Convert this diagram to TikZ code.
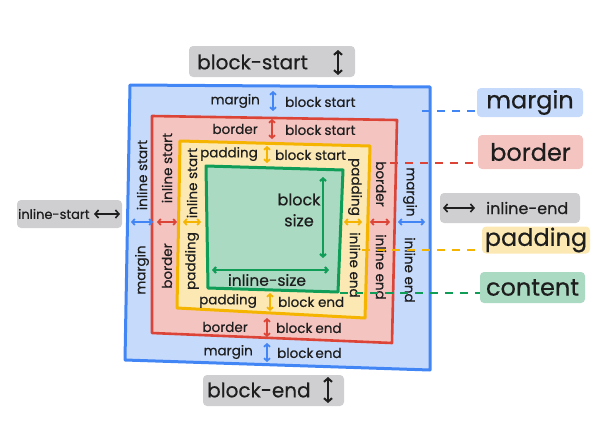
\documentclass[tikz,border=0pt]{standalone}
\usepackage{fontspec}
\setmainfont{Poppins}[FakeBold=0.5]
\usetikzlibrary{arrows.meta}
\definecolor{bstroke}{HTML}{4285F4}\definecolor{bfill}{HTML}{C6DAFB}
\definecolor{rstroke}{HTML}{DB4437}\definecolor{rfill}{HTML}{F4C4C0}
\definecolor{ystroke}{HTML}{F4B400}\definecolor{yfill}{HTML}{FCE8B2}
\definecolor{gstroke}{HTML}{0F9D58}\definecolor{gfill}{HTML}{ABDAC3}
\definecolor{tagfill}{HTML}{CFCFD2}
\definecolor{ink}{HTML}{1E1E1E}
\tikzset{
  lbl/.style={font=\fontsize{13.5}{13.5}\selectfont, inner sep=0pt, text=ink},
  big/.style={font=\fontsize{20}{20}\selectfont, inner sep=0pt, text=ink},
  leg/.style={font=\fontsize{24}{24}\selectfont, inner sep=0pt, text=ink},
  tagbox/.style={rounded corners=4pt, draw=none},
  dbl/.style={{Straight Barb[length=2.6pt,width=6pt]}-{Straight Barb[length=2.6pt,width=6pt]}, line width=1.8pt},
  bigdbl/.style={{Straight Barb[length=3.5pt,width=8pt]}-{Straight Barb[length=3.5pt,width=8pt]}, line width=2pt, draw=ink},
  dsh/.style={dash pattern=on 8pt off 7pt, line width=1.2pt},
}
\begin{document}
\begin{tikzpicture}[x=1pt,y=-1pt]
\useasboundingbox (0,0) rectangle (599,431);
% boxes
\draw[bstroke, fill=bfill, line width=3pt, line join=round] (130,85) -- (430,87) -- (430,370) -- (125,360) -- cycle;
\draw[rstroke, fill=rfill, line width=2.6pt, line join=round] (152,116) -- (397,120) -- (392,343) -- (152,333) -- cycle;
\draw[ystroke, fill=yfill, line width=3pt, line join=round] (180,141) -- (370,146) -- (365,318) -- (177,308) -- cycle;
\draw[gstroke, fill=gfill, line width=3pt, line join=round] (206,166) -- (343,170) -- (338,292) -- (208,288) -- cycle;

% top block start rows
\node[lbl, anchor=east] (mbs) at (260,101) {margin};
\draw[dbl, bstroke] (273,91) -- (273,111);
\node[lbl, anchor=west] (mbs2) at (285,102) {block\hspace{3pt}start};
\node[lbl, anchor=east] (bbs) at (258,129) {border};
\draw[dbl, rstroke] (272,119) -- (272,139);
\node[lbl, anchor=west] (bbs2) at (285,130) {block\hspace{3pt}start};
\node[lbl, anchor=east] (pbs) at (258,154) {padding};
\draw[dbl, ystroke] (267,146) -- (267,163);
\node[lbl, anchor=west] (pbs2) at (275,155) {block start};

% bottom block end rows
\node[lbl, anchor=east] (pbe) at (257,301) {padding};
\draw[dbl, ystroke] (270,293) -- (270,311);
\node[lbl, anchor=west] (pbe2) at (278,302) {block end};
\node[lbl, anchor=east] (bbe) at (248,327) {border};
\draw[dbl, rstroke] (267,318) -- (267,337);
\node[lbl, anchor=west] (bbe2) at (276,328) {block\hspace{3pt}end};
\node[lbl, anchor=east] (mbe) at (253,352) {margin};
\draw[dbl, bstroke] (267,343) -- (267,362);
\node[lbl, anchor=west] (mbe2) at (277,353) {block\hspace{2pt}end};

% left inline start columns
\node[lbl, rotate=90] (mis) at (142,175) {inline start};
\draw[dbl, bstroke] (131,222) -- (153,222);
\node[lbl, rotate=90] (mis2) at (142,270) {margin};
\node[lbl, rotate=90] (bis) at (167,168) {inline start};
\draw[dbl, rstroke] (157,222) -- (177,222);
\node[lbl, rotate=90] (bis2) at (167,266) {border};
\node[lbl, rotate=90] (pis) at (192,183) {inline start};
\draw[dbl, ystroke] (183,222) -- (201,222);
\node[lbl, rotate=90] (pis2) at (192,261) {padding};

% right inline end columns
\node[lbl, rotate=-90] (pie) at (355,187) {padding};
\draw[dbl, ystroke] (344,222) -- (362,222);
\node[lbl, rotate=-90] (pie2) at (355,265) {inline end};
\node[lbl, rotate=-90] (bie) at (381,184) {border};
\draw[dbl, rstroke] (370,222) -- (390,222);
\node[lbl, rotate=-90] (bie2) at (381,267) {inline end};
\node[lbl, rotate=-90] (mie) at (410,192) {margin};
\draw[dbl, bstroke] (398,222) -- (425,222);
\node[lbl, rotate=-90] (mie2) at (410,270) {inline end};

% content
\node[lbl, align=center, font=\fontsize{16}{21}\selectfont] (bsize) at (299,210) {block\\size};
\draw[dbl, gstroke, line width=2.2pt] (323,177) -- (323,258);
\draw[dbl, gstroke, line width=2.2pt] (212,270) -- (329,270);
\node[lbl, font=\fontsize{15.5}{15.5}\selectfont] (isize) at (267,280) {inline-size};

% gray tags
\fill[tagfill, tagbox] (189,46) rectangle (355,77);
\node[big, anchor=west] (tbs) at (197,62) {block-start};
\draw[bigdbl] (338,50) -- (338,75);
\fill[tagfill, tagbox] (203,375) rectangle (344,406);
\node[big, anchor=west] (tbe) at (207,390) {block-end};
\draw[bigdbl] (328,377) -- (328,403);
\fill[tagfill, tagbox] (17,200) rectangle (122,228);
\node[lbl, anchor=west, font=\fontsize{13}{13}\selectfont] (tis) at (18,214) {inline-start};
\draw[bigdbl, line width=1.6pt] (94,214) -- (120,214);
\fill[tagfill, tagbox] (440,193) rectangle (580,223);
\draw[bigdbl, line width=1.6pt] (443,208) -- (475,208);
\node[lbl, anchor=west, font=\fontsize{16}{16}\selectfont] (tie) at (486,208) {inline-end};

% coloured legend tags
\node[tagbox, fill=bfill, minimum width=106pt, minimum height=29pt, inner sep=0pt] (lm) at (530,102.5) {};
\node[leg] (lmt) at (lm) {margin};
\node[tagbox, fill=rfill, minimum width=105pt, minimum height=34pt, inner sep=0pt] (lb) at (530.5,152) {};
\node[leg] (lbt) at (lb) {border};
\node[tagbox, fill=yfill, minimum width=108pt, minimum height=27pt, inner sep=0pt] (lp) at (536,240) {};
\node[leg] (lpt) at (lp) {padding};
\node[tagbox, fill=gfill, minimum width=105pt, minimum height=31pt, inner sep=0pt] (lc) at (532.5,287.5) {};
\node[leg] (lct) at (lc) {content};

% dashed leaders
\coordinate (dm) at (422,111);
\coordinate (db) at (390,163);
\coordinate (dp) at (362,250);
\coordinate (dc) at (340,293);
\draw[dsh, draw=bstroke] (dm) -- (dm -| lm.west);
\draw[dsh, draw=rstroke] (db) -- (db -| lb.west);
\draw[dsh, draw=ystroke] (dp) -- (dp -| lp.west);
\draw[dsh, draw=gstroke] (dc) -- (dc -| lc.west);
\end{tikzpicture}
\end{document}
